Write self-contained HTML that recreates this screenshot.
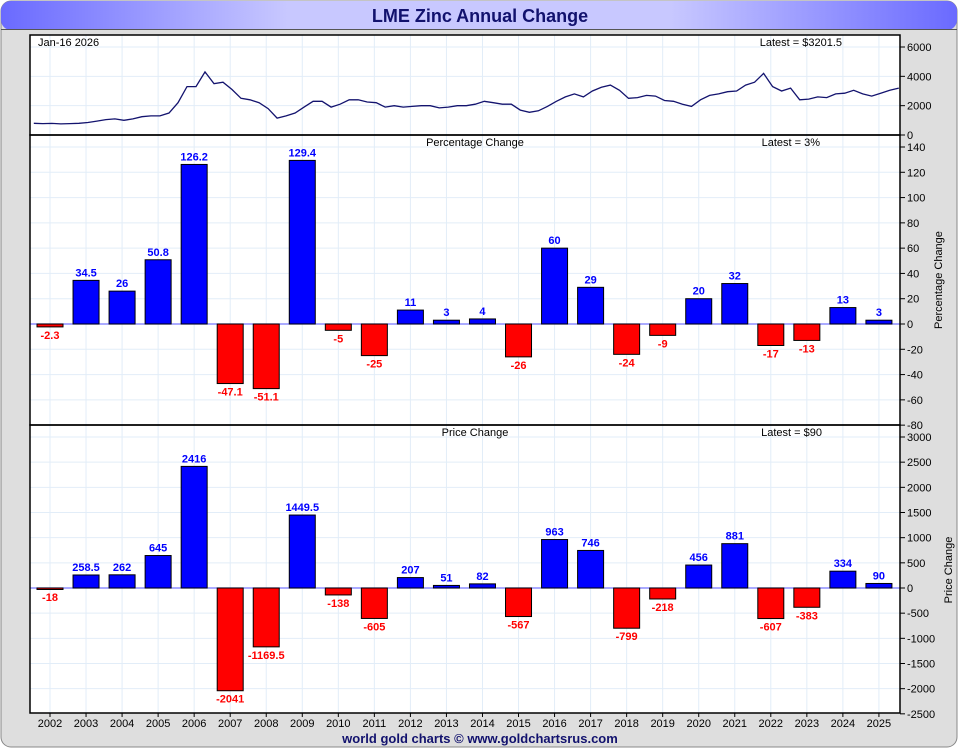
<!DOCTYPE html>
<html><head><meta charset="utf-8"><style>
body{margin:0;width:960px;height:750px;overflow:hidden;background:#fff;font-family:"Liberation Sans",sans-serif}
</style></head><body>
<svg id="c" width="960" height="750" xmlns="http://www.w3.org/2000/svg">
<defs><linearGradient id="tg" x1="0" x2="1"><stop offset="0" stop-color="#6a6aff"/><stop offset="0.3" stop-color="#c8c8ff"/><stop offset="0.7" stop-color="#c8c8ff"/><stop offset="1" stop-color="#6a6aff"/></linearGradient></defs>
<rect x="1" y="1" width="956" height="746" rx="10" fill="#dedede" stroke="#888"/>
<rect x="1" y="1" width="956" height="29" rx="10" fill="url(#tg)"/>
<line x1="1" y1="29.5" x2="957" y2="29.5" stroke="#555"/>
<text x="480" y="22" text-anchor="middle" font-size="18" font-weight="bold" fill="#12126e">LME Zinc Annual Change</text>
<rect x="30" y="35" width="870" height="678" fill="#fff"/>
<g id="g"></g>
<text x="480" y="743" text-anchor="middle" font-size="13" font-weight="bold" fill="#12126e">world gold charts © www.goldchartsrus.com</text>
</svg>
<script>
const years=[2002,2003,2004,2005,2006,2007,2008,2009,2010,2011,2012,2013,2014,2015,2016,2017,2018,2019,2020,2021,2022,2023,2024,2025];
const pctValues=[-2.3,34.5,26,50.8,126.2,-47.1,-51.1,129.4,-5,-25,11,3,4,-26,60,29,-24,-9,20,32,-17,-13,13,3];
const priceValues=[-18,258.5,262,645,2416,-2041,-1169.5,1449.5,-138,-605,207,51,82,-567,963,746,-799,-218,456,881,-607,-383,334,90];
const pctTicks=[140,120,100,80,60,40,20,0,-20,-40,-60,-80];
const priceTicks=[3000,2500,2000,1500,1000,500,0,-500,-1000,-1500,-2000,-2500];
const topTicks=[6000,4000,2000,0];
const zincQuarterly=[800,780,790,760,780,800,850,950,1050,1100,1000,1100,1250,1300,1300,1500,2200,3300,3300,4300,3500,3600,3100,2500,2400,2200,1800,1150,1300,1500,1900,2300,2300,1900,2100,2400,2400,2250,2200,1900,2000,1900,1950,2000,2000,1850,1900,2000,2000,2100,2300,2200,2100,2100,1700,1550,1650,1950,2300,2600,2800,2600,3000,3250,3400,3050,2500,2550,2700,2650,2350,2300,2100,1950,2400,2700,2800,2950,3000,3400,3600,4200,3300,3000,3200,2400,2450,2600,2550,2800,2850,3050,2800,2650,2850,3050,3200];
const NS="http://www.w3.org/2000/svg",g=document.getElementById('g');
function mk(t,a,txt){const e=document.createElementNS(NS,t);for(const k in a)e.setAttribute(k,a[k]);if(txt!==undefined)e.textContent=txt;g.appendChild(e);return e;}
const L=30,R=900;
const xc=i=>50+i*36.04;
const xt=t=>32+(t-2002)*36.04;
function grid(top,bot,ticks,ys,name){
 years.forEach((y,i)=>{const l=mk('line',{x1:xc(i),x2:xc(i),y1:top,y2:bot,stroke:'#e2edf8'});
 
 });
 ticks.forEach(v=>{const y=ys(v);
  if(y>top+1&&y<bot-1){const l=mk('line',{x1:L,x2:R,y1:y,y2:y,stroke:'#e2edf8'});
  
  }
  mk('line',{x1:R,x2:R+5,y1:y,y2:y,stroke:'#000'});
  const t=mk('text',{x:R+7,y:y+4,'font-size':11,fill:'#000'},v);
  
  });
}
// top panel
const yTop=v=>135-v*(88/6000);
grid(35,135,topTicks,yTop,'top');
let d='';zincQuarterly.forEach((v,i)=>{d+=(i?'L':'M')+xt(2002+i/4+0.05).toFixed(1)+','+yTop(v).toFixed(1);});
const pl=mk('path',{d:d,fill:'none',stroke:'#13136e','stroke-width':1.3});


// bar panels
const yPct=v=>324-v*(177/140);
const yPr=v=>588-v*(151/3000);
function bars(vals,ys,name,top,bot,ticks){
 grid(top,bot,ticks,ys,name);
 const z=ys(0);
 mk('line',{x1:L,x2:R,y1:z,y2:z,stroke:'#7777ff','stroke-width':1.2});
 vals.forEach((v,i)=>{const y=ys(v),pos=v>=0;
  const r=mk('rect',{x:xc(i)-13,y:Math.min(y,z),width:26,height:Math.max(Math.abs(z-y),1.5),fill:pos?'#0000ff':'#ff0000',stroke:'#000','stroke-width':1});
  
  
  const t=mk('text',{x:xc(i),y:pos?y-4:Math.max(y,z)+12,'text-anchor':'middle','font-size':11,'font-weight':'bold',fill:pos?'#0000ff':'#ff0000'},v);
  
  });
}
bars(pctValues,yPct,'pct',135,425,pctTicks);
bars(priceValues,yPr,'price',425,713,priceTicks);
years.forEach((y,i)=>{mk('line',{x1:xc(i),x2:xc(i),y1:713,y2:717,stroke:'#000'});
 const t=mk('text',{x:xc(i),y:727,'text-anchor':'middle','font-size':11,fill:'#000'},y);
 
 });
// borders
[[35,135],[135,425],[425,713]].forEach(([a,b])=>{mk('rect',{x:L,y:a,width:R-L,height:b-a,fill:'none',stroke:'#000','stroke-width':1.5});});
function lab(x,y,s,anch,name,rot){const t=mk('text',{x:x,y:y,'font-size':11,fill:'#000','text-anchor':anch||'start'},s);
 if(rot)t.setAttribute('transform','rotate(-90 '+x+' '+y+')');
 
 }
lab(38,46,'Jan-16  2026','start','date-label');
lab(842,46,'Latest = $3201.5','end','latest-price-label');
lab(475,146,'Percentage Change','middle','pct-panel-title');
lab(820,146,'Latest = 3%','end','latest-pct-label');
lab(475,436,'Price Change','middle','price-panel-title');
lab(822,436,'Latest = $90','end','latest-change-label');
lab(942,280,'Percentage Change','middle','pct-axis-title',true);
lab(952,570,'Price Change','middle','price-axis-title',true);
</script>
</body></html>
